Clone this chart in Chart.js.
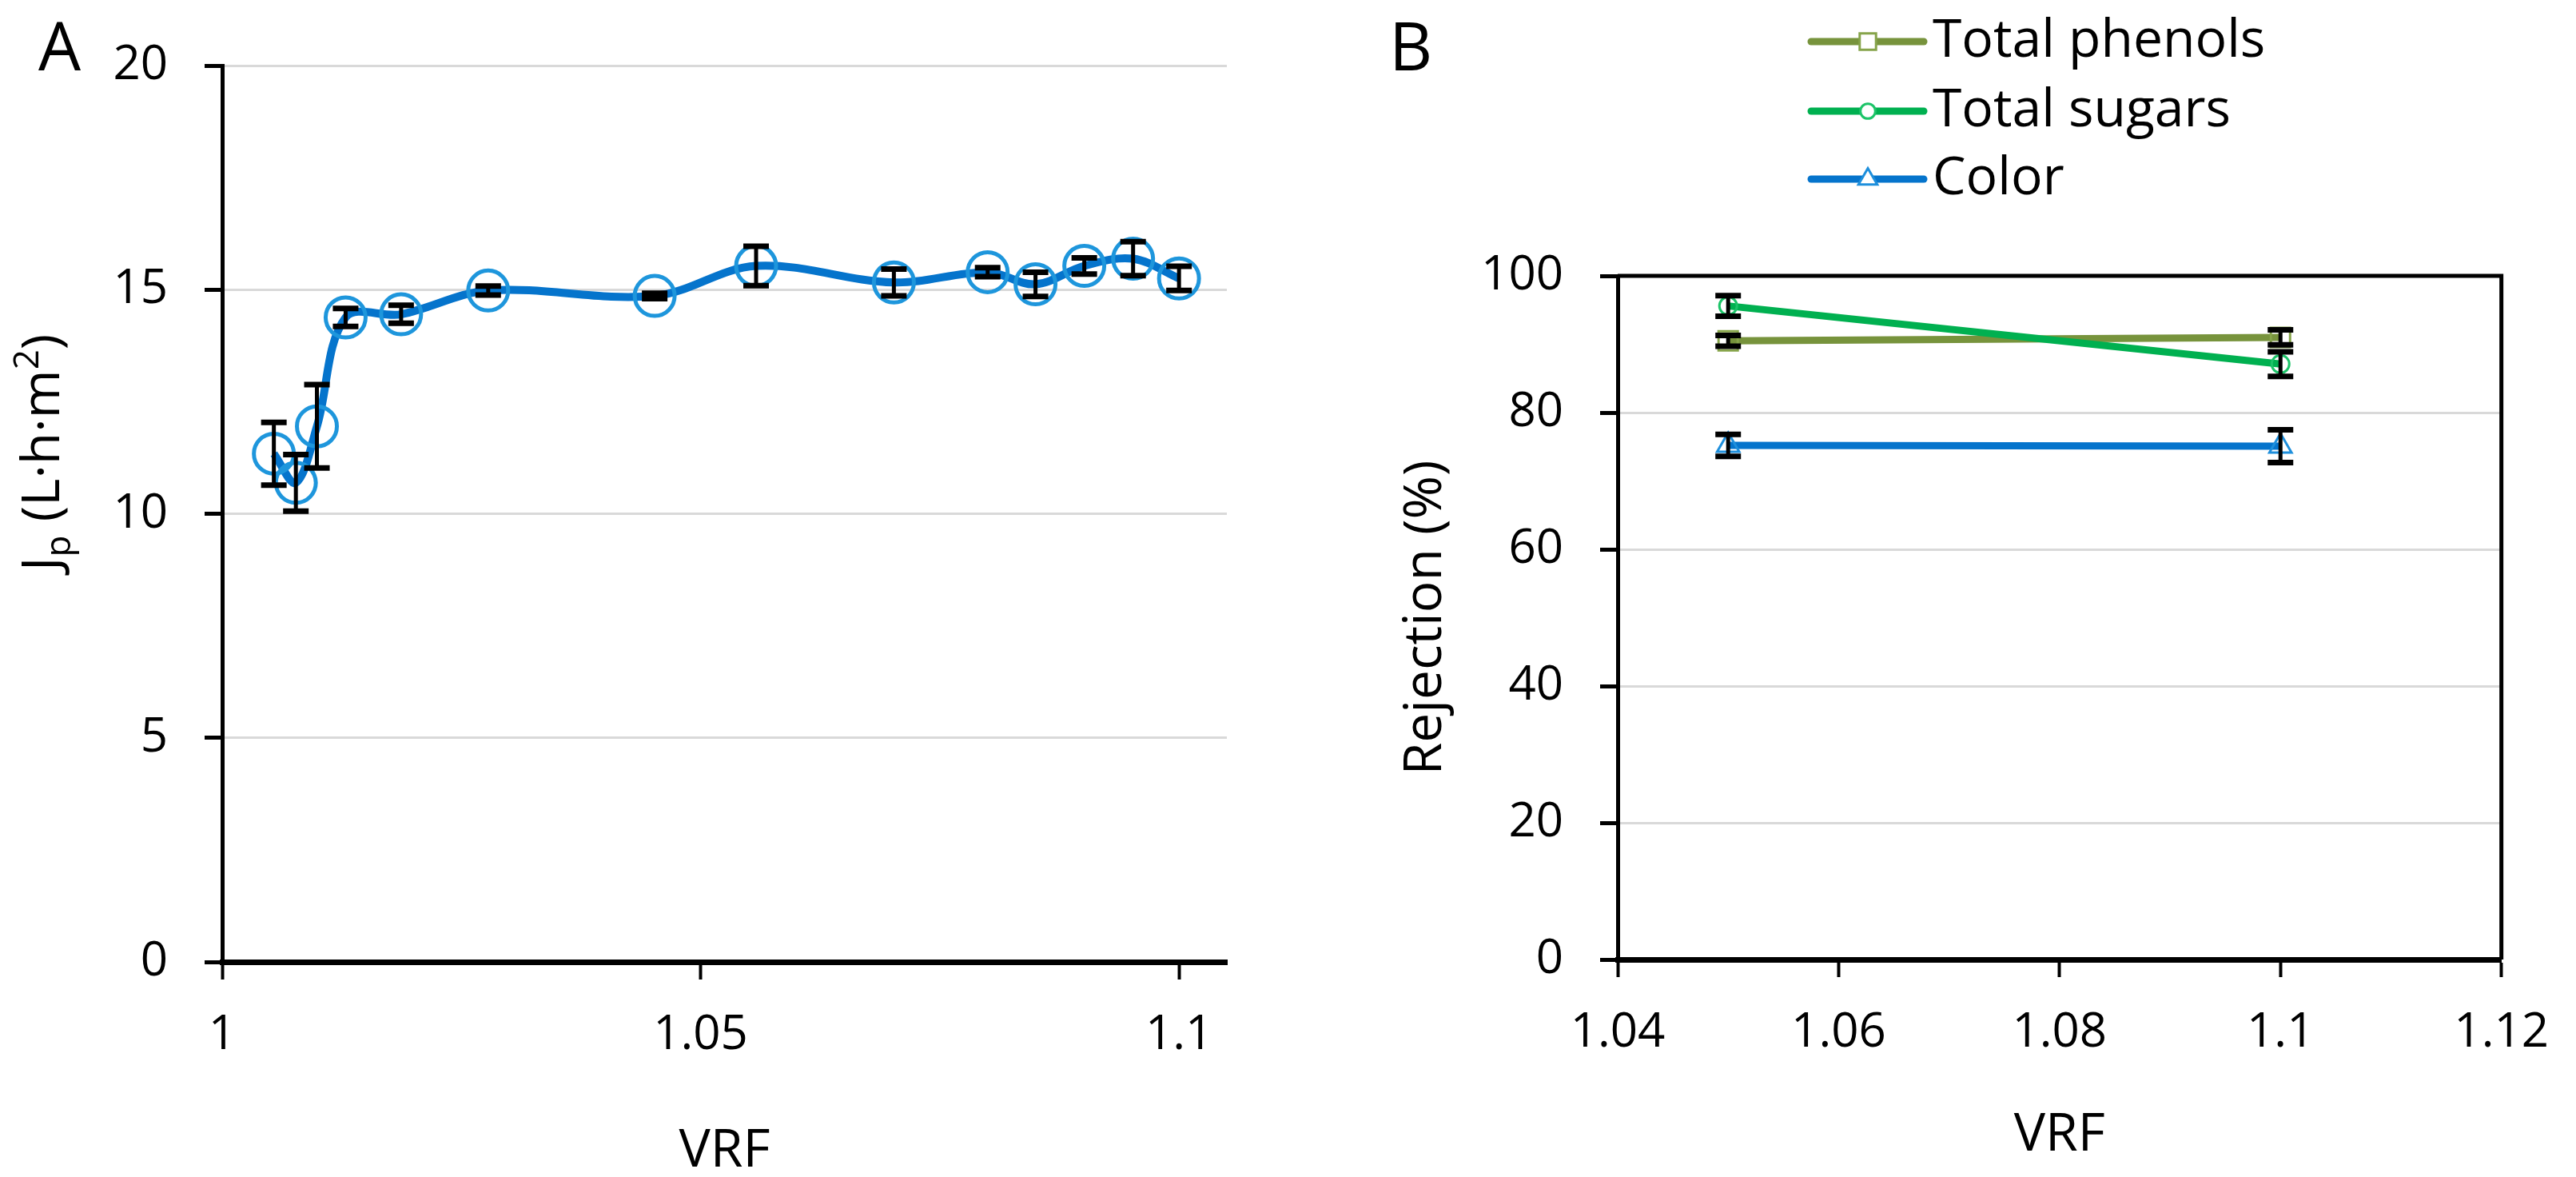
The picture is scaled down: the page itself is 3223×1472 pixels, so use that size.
<!DOCTYPE html>
<html>
<head>
<meta charset="utf-8">
<script src="https://cdn.jsdelivr.net/npm/chart.js@4.4.1/dist/chart.umd.min.js"></script>
<style>
  html, body { margin: 0; padding: 0; background: #fff; }
  #wrapA { position: absolute; left: 0; top: 0; width: 1600px; height: 1472px; }
  #wrapB { position: absolute; left: 1600px; top: 0; width: 1623px; height: 1472px; }
</style>
</head>
<body>
<div id="wrapA"><canvas id="chartA"></canvas></div>
<div id="wrapB"><canvas id="chartB"></canvas></div>
<script>
// DATA ----------------------------------------------------------------------
// panel A : permeate flux vs VRF
var vrfA     = [1.0054, 1.0077, 1.0099, 1.0129, 1.0187, 1.0278, 1.0452, 1.0558, 1.0702, 1.0800, 1.0850, 1.0901, 1.0952, 1.1000];
var fluxA    = [11.34, 10.69, 11.95, 14.38, 14.45, 14.98, 14.86, 15.53, 15.16, 15.39, 15.12, 15.53, 15.69, 15.25];
var fluxErrA = [0.70, 0.63, 0.93, 0.20, 0.20, 0.10, 0.06, 0.44, 0.30, 0.10, 0.27, 0.18, 0.38, 0.27];
var xTicksA  = [1, 1.05, 1.1];
var yTicksA  = [0, 5, 10, 15, 20];

// panel B : rejection vs VRF
var vrfB        = [1.05, 1.1];
var phenols     = [90.5, 91.0];
var phenolsErr  = [0.8, 1.1];
var sugars      = [95.6, 87.1];
var sugarsErr   = [1.5, 1.8];
var colour      = [75.2, 75.1];
var colourErr   = [1.6, 2.4];
var seriesNames = ["Total phenols", "Total sugars", "Color"];
var xTicksB     = [1.04, 1.06, 1.08, 1.1, 1.12];
var yTicksB     = [0, 20, 40, 60, 80, 100];

var FONT = "'Open Sans', 'Noto Sans', sans-serif";
Chart.defaults.font.family = FONT;
Chart.defaults.color = "#000";

function toPoints(xs, ys){
  return xs.map(function(x, i){ return {x: x, y: ys[i]}; });
}

function fixedTicks(list){
  return function(scale){
    scale.ticks = list.map(function(v){ return {value: v}; });
  };
}

// PLUGINS -------------------------------------------------------------------
var errorBars = {
  id: "errorBars",
  afterDatasetsDraw: function(chart){
    var ctx = chart.ctx, xs = chart.scales.x, ys = chart.scales.y;
    chart.data.datasets.forEach(function(ds){
      if (!ds.errors) return;
      ctx.save();
      ctx.strokeStyle = "#000";
      ds.data.forEach(function(p, j){
        var e = ds.errors[j];
        var px = xs.getPixelForValue(p.x);
        var top = ys.getPixelForValue(p.y + e);
        var bot = ys.getPixelForValue(p.y - e);
        ctx.lineWidth = 5;
        ctx.beginPath();
        ctx.moveTo(px, top); ctx.lineTo(px, bot);
        ctx.stroke();
        ctx.lineWidth = 7;
        ctx.beginPath();
        ctx.moveTo(px - 16, top); ctx.lineTo(px + 16, top);
        ctx.moveTo(px - 16, bot); ctx.lineTo(px + 16, bot);
        ctx.stroke();
      });
      ctx.restore();
    });
  }
};

// panel letter + y title with sub/superscript
var decorA = {
  id: "decorA",
  afterDraw: function(chart){
    var ctx = chart.ctx;
    ctx.save();
    ctx.fillStyle = "#000";
    ctx.textBaseline = "alphabetic";
    ctx.font = "84px " + FONT;
    ctx.fillText("A", 48, 88);

    var parts = [
      {t: "J", size: 66, dy: 0},
      {t: "p", size: 44, dy: 14},
      {t: " (L\u00b7h\u00b7m", size: 66, dy: 0},
      {t: "2", size: 44, dy: -26},
      {t: ")", size: 66, dy: 0}
    ];
    var total = 0;
    parts.forEach(function(p){
      ctx.font = p.size + "px " + FONT;
      p.w = ctx.measureText(p.t).width;
      total += p.w;
    });
    ctx.translate(74, 566);
    ctx.rotate(-Math.PI / 2);
    var x = -total / 2;
    parts.forEach(function(p){
      ctx.font = p.size + "px " + FONT;
      ctx.fillText(p.t, x, p.dy);
      x += p.w;
    });
    ctx.restore();
  }
};

// frame, panel letter and legend for panel B
var decorB = {
  id: "decorB",
  afterDraw: function(chart){
    var ctx = chart.ctx, area = chart.chartArea;
    ctx.save();
    ctx.strokeStyle = "#000";
    ctx.lineWidth = 5;
    ctx.beginPath();
    ctx.moveTo(area.left, area.top);
    ctx.lineTo(area.right, area.top);
    ctx.lineTo(area.right, area.bottom);
    ctx.stroke();

    ctx.fillStyle = "#000";
    ctx.textBaseline = "alphabetic";
    ctx.font = "84px " + FONT;
    ctx.fillText("B", 138, 88);

    // legend
    var rowY = [52, 139, 224];
    chart.data.datasets.forEach(function(ds, i){
      var y = rowY[i];
      ctx.strokeStyle = ds.borderColor;
      ctx.lineWidth = 9;
      ctx.lineCap = "round";
      ctx.beginPath();
      ctx.moveTo(666, y); ctx.lineTo(807, y);
      ctx.stroke();
      ctx.lineCap = "butt";
      ctx.fillStyle = "#fff";
      ctx.strokeStyle = ds.pointBorderColor;
      ctx.lineWidth = ds.pointBorderWidth;
      Chart.helpers.drawPoint(ctx, {pointStyle: ds.pointStyle, radius: ds.pointRadius * 0.85, rotation: 0, borderWidth: ds.pointBorderWidth}, 737, y);
      ctx.fillStyle = "#000";
      ctx.textBaseline = "middle";
      ctx.font = "66px " + FONT;
      ctx.fillText(ds.label, 818, y);
    });
    ctx.restore();
  }
};

// CHART A -------------------------------------------------------------------
function makeChartA(){
  new Chart(document.getElementById("chartA"), {
    type: "line",
    data: {
      datasets: [{
        label: "Jp",
        data: toPoints(vrfA, fluxA),
        errors: fluxErrA,
        borderColor: "#0574CC",
        borderWidth: 10,
        tension: 0.35,
        pointStyle: "circle",
        pointRadius: 25,
        pointBorderWidth: 5,
        pointBorderColor: "#1E96DC",
        pointBackgroundColor: "rgba(0,0,0,0)"
      }]
    },
    options: {
      responsive: true,
      maintainAspectRatio: false,
      animation: false,
      layout: { padding: { top: 68, right: 65, left: 0, bottom: 0 } },
      plugins: { legend: { display: false }, tooltip: { enabled: false } },
      scales: {
        x: {
          type: "linear", min: 1, max: 1.105,
          afterBuildTicks: fixedTicks(xTicksA),
          afterFit: function(s){ s.height = 269; },
          grid: { drawOnChartArea: false, tickColor: "#000", tickLength: 22, tickWidth: 4 },
          border: { color: "#000", width: 7 },
          ticks: { font: { size: 60 }, color: "#000", padding: 34, maxRotation: 0,
                   callback: function(v){ return String(v); } },
          title: { display: true, text: "VRF", font: { size: 66 }, color: "#000", padding: { top: 0, bottom: -8 } }
        },
        y: {
          min: 0, max: 20,
          afterBuildTicks: fixedTicks(yTicksA),
          afterFit: function(s){ s.width = 278; },
          grid: { color: "#d9d9d9", lineWidth: 3, tickColor: "#000", tickLength: 22, tickWidth: 5 },
          border: { color: "#000", width: 5 },
          ticks: { font: { size: 60 }, color: "#000", padding: 46 }
        }
      }
    },
    plugins: [errorBars, decorA]
  });
}

// CHART B -------------------------------------------------------------------
function makeChartB(){
  new Chart(document.getElementById("chartB"), {
    type: "line",
    data: {
      datasets: [{
        label: seriesNames[0],
        data: toPoints(vrfB, phenols),
        errors: phenolsErr,
        order: 1,
        borderColor: "#77933C", borderWidth: 9, tension: 0,
        pointStyle: "rect", pointRadius: 17, pointBorderWidth: 3,
        pointBorderColor: "#86A44A", pointBackgroundColor: "rgba(0,0,0,0)"
      }, {
        label: seriesNames[1],
        data: toPoints(vrfB, sugars),
        errors: sugarsErr,
        order: 0,
        borderColor: "#00B050", borderWidth: 9, tension: 0,
        pointStyle: "circle", pointRadius: 11, pointBorderWidth: 3,
        pointBorderColor: "#1CC468", pointBackgroundColor: "rgba(0,0,0,0)"
      }, {
        label: seriesNames[2],
        data: toPoints(vrfB, colour),
        errors: colourErr,
        order: 2,
        borderColor: "#0574CC", borderWidth: 9, tension: 0,
        pointStyle: "triangle", pointRadius: 16, pointBorderWidth: 3,
        pointBorderColor: "#1E8FDC", pointBackgroundColor: "rgba(0,0,0,0)"
      }]
    },
    options: {
      responsive: true,
      maintainAspectRatio: false,
      animation: false,
      layout: { padding: { top: 345, right: 81, left: 0, bottom: 0 } },
      plugins: { legend: { display: false }, tooltip: { enabled: false } },
      scales: {
        x: {
          type: "linear", min: 1.04, max: 1.12,
          afterBuildTicks: fixedTicks(xTicksB),
          afterFit: function(s){ s.height = 272; },
          grid: { drawOnChartArea: false, tickColor: "#000", tickLength: 22, tickWidth: 4 },
          border: { color: "#000", width: 7 },
          ticks: { font: { size: 60 }, color: "#000", padding: 34, maxRotation: 0,
                   callback: function(v){ return String(v); } },
          title: { display: true, text: "VRF", font: { size: 66 }, color: "#000", padding: { top: 0, bottom: 12 } }
        },
        y: {
          min: 0, max: 100,
          afterBuildTicks: fixedTicks(yTicksB),
          afterFit: function(s){ s.width = 424; },
          grid: { color: "#d9d9d9", lineWidth: 3, tickColor: "#000", tickLength: 22, tickWidth: 5 },
          border: { color: "#000", width: 5 },
          ticks: { font: { size: 60 }, color: "#000", padding: 46 },
          title: { display: true, text: "Rejection (%)", font: { size: 66 }, color: "#000", padding: { top: 145, bottom: 0 } }
        }
      }
    },
    plugins: [errorBars, decorB]
  });
}

// INIT ----------------------------------------------------------------------
function init(){
  makeChartA();
  makeChartB();
}

init();
</script>
</body>
</html>
